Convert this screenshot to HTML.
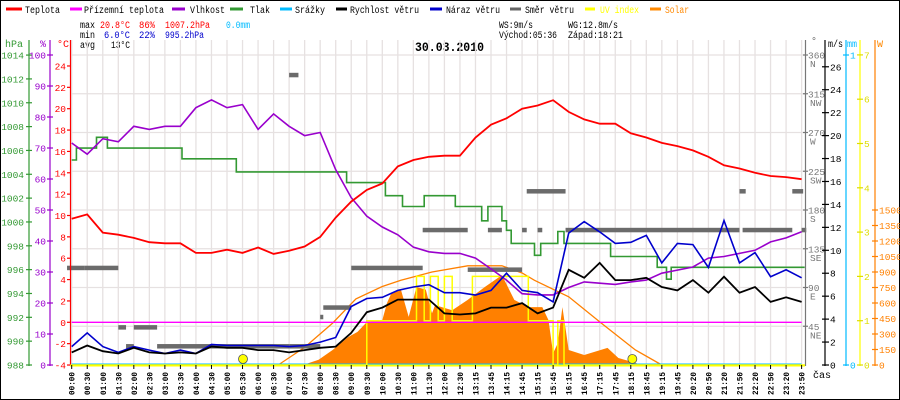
<!DOCTYPE html>
<html><head><meta charset="utf-8"><style>
html,body{margin:0;padding:0;background:#fff}
svg{display:block;font-family:"Liberation Mono",monospace}
</style></head><body>
<svg id="chart" width="900" height="400" viewBox="0 0 900 400" xmlns="http://www.w3.org/2000/svg">
<rect x="0.5" y="0.5" width="899" height="399" fill="#fff" stroke="#000"/>
<g id="legend" font-size="10">
 <g><line x1="6" y1="9" x2="22" y2="9" stroke="#f00" stroke-width="3"/><text x="25" y="13" textLength="35" lengthAdjust="spacingAndGlyphs">Teplota</text></g>
 <g><line x1="70" y1="9" x2="82" y2="9" stroke="#f0f" stroke-width="3"/><text x="84" y="13" textLength="80" lengthAdjust="spacingAndGlyphs">Přízemní teplota</text></g>
 <g><line x1="172" y1="9" x2="185" y2="9" stroke="#90c" stroke-width="3"/><text x="190" y="13" textLength="35" lengthAdjust="spacingAndGlyphs">Vlhkost</text></g>
 <g><line x1="230" y1="9" x2="243" y2="9" stroke="#393" stroke-width="3"/><text x="250" y="13" textLength="20" lengthAdjust="spacingAndGlyphs">Tlak</text></g>
 <g><line x1="280" y1="9" x2="292" y2="9" stroke="#0bf" stroke-width="3"/><text x="295" y="13" textLength="30" lengthAdjust="spacingAndGlyphs">Srážky</text></g>
 <g><line x1="336" y1="9" x2="347" y2="9" stroke="#000" stroke-width="3"/><text x="350" y="13" textLength="69" lengthAdjust="spacingAndGlyphs">Rychlost větru</text></g>
 <g><line x1="430" y1="9" x2="442" y2="9" stroke="#00c" stroke-width="3"/><text x="446" y="13" textLength="54" lengthAdjust="spacingAndGlyphs">Náraz větru</text></g>
 <g><line x1="510" y1="9" x2="521" y2="9" stroke="#666" stroke-width="3"/><text x="525" y="13" textLength="49" lengthAdjust="spacingAndGlyphs">Směr větru</text></g>
 <g><line x1="585" y1="9" x2="595" y2="9" stroke="#ff0" stroke-width="3"/><text x="600" y="13" fill="#ff0" textLength="39" lengthAdjust="spacingAndGlyphs">UV index</text></g>
 <g><line x1="650" y1="9" x2="661" y2="9" stroke="#f80" stroke-width="3"/><text x="665" y="13" fill="#f80" textLength="24" lengthAdjust="spacingAndGlyphs">Solar</text></g>
</g>
<g id="stats" font-size="10">
 <text x="80" y="28" textLength="15" lengthAdjust="spacingAndGlyphs">max</text>
 <text x="100" y="28" fill="#f00" textLength="30" lengthAdjust="spacingAndGlyphs">20.8°C</text>
 <text x="139" y="28" fill="#f00" textLength="16" lengthAdjust="spacingAndGlyphs">86%</text>
 <text x="165" y="28" fill="#f00" textLength="45" lengthAdjust="spacingAndGlyphs">1007.2hPa</text>
 <text x="226" y="28" fill="#0bf" textLength="24" lengthAdjust="spacingAndGlyphs">0.0mm</text>
 <text x="80" y="38" textLength="15" lengthAdjust="spacingAndGlyphs">min</text>
 <text x="104" y="38" fill="#00c" textLength="26" lengthAdjust="spacingAndGlyphs">6.0°C</text>
 <text x="139" y="38" fill="#00c" textLength="16" lengthAdjust="spacingAndGlyphs">22%</text>
 <text x="165" y="38" fill="#00c" textLength="39" lengthAdjust="spacingAndGlyphs">995.2hPa</text>
 <text x="80" y="48" textLength="15" lengthAdjust="spacingAndGlyphs">avg</text>
 <text x="111" y="48" textLength="19" lengthAdjust="spacingAndGlyphs">13°C</text>
 <text x="499" y="28" textLength="34" lengthAdjust="spacingAndGlyphs">WS:9m/s</text>
 <text x="568" y="28" textLength="50" lengthAdjust="spacingAndGlyphs">WG:12.8m/s</text>
 <text x="499" y="38" textLength="58" lengthAdjust="spacingAndGlyphs">Východ:05:36</text>
 <text x="568" y="38" textLength="55" lengthAdjust="spacingAndGlyphs">Západ:18:21</text>
</g>
<text x="415" y="51" font-size="13" font-weight="bold" textLength="69" lengthAdjust="spacingAndGlyphs">30.03.2010</text>
<g font-size="10">
 <text x="5" y="47" fill="#393">hPa</text>
 <text x="40" y="47" fill="#90c">%</text>
 <text x="57" y="47" fill="#f00">°C</text>
 <text x="811" y="44" fill="#666">°</text>
 <text x="828" y="47" fill="#000" textLength="15" lengthAdjust="spacingAndGlyphs">m/s</text>
 <text x="847" y="47" fill="#0bf" textLength="10" lengthAdjust="spacingAndGlyphs">mm</text>
 <text x="877" y="47" fill="#f80">W</text>
 <text x="813" y="378" fill="#000">čas</text>
</g>
<g id="plot"></g>
</svg>
<script>
// ---- data ----
const timeLabels = ["00:00","00:30","01:00","01:30","02:00","02:30","03:00","03:30","04:00","04:30","05:00","05:30","06:00","06:30","07:00","07:30","08:00","08:30","09:00","09:30","10:00","10:30","11:00","11:30","12:00","12:30","13:15","13:45","14:15","14:45","15:15","15:45","16:15","16:45","17:15","17:45","18:15","18:45","19:15","19:45","20:20","20:50","21:20","21:50","22:20","22:50","23:20","23:50"];
const temperature = [9.7,10.1,8.4,8.2,7.9,7.5,7.4,7.4,6.5,6.5,6.8,6.5,7.0,6.4,6.7,7.1,8.0,9.8,11.3,12.4,13.0,14.6,15.2,15.5,15.6,15.6,17.3,18.5,19.1,20.0,20.3,20.8,19.7,19.0,18.6,18.6,17.7,17.3,16.8,16.5,16.1,15.5,14.7,14.4,14.0,13.7,13.6,13.4];
const groundTemp = [0,0,0,0,0,0,0,0,0,0,0,0,0,0,0,0,0,0,0,0,0,0,0,0,0,0,0,0,0,0,0,0,0,0,0,0,0,0,0,0,0,0,0,0,0,0,0,0];
const humidity = [71.6,68,73,72,77,76,77,77,83,85.5,83,84,76,81,77,74,75,63,54,48,44.5,42,38,36.5,36,36,34.5,31,27.4,23,22.6,22.6,25,26.8,26.4,26,26.8,27.4,29.6,30.6,31.6,34.5,35,36,37,39.7,41,43];
const windSpeed = [1.1,1.7,1.2,1.0,1.5,1.1,1.0,1.1,1.0,1.6,1.5,1.5,1.3,1.3,1.1,1.3,1.5,1.6,2.8,4.6,5.0,5.7,5.7,5.7,4.5,4.4,4.5,5.0,5.0,5.4,4.5,5.0,8.3,7.6,8.9,7.4,7.4,7.6,6.8,6.5,7.4,6.3,7.7,6.3,6.8,5.5,5.9,5.5];
const windGust = [1.6,2.8,1.6,1.1,1.6,1.3,1.0,1.3,1.0,1.8,1.7,1.7,1.7,1.7,1.6,1.7,2.0,2.4,5.1,5.8,5.9,6.5,6.8,7.0,6.3,6.3,6.1,6.5,8.0,6.5,6.3,5.5,11.5,12.5,11.6,10.6,10.7,11.3,8.9,10.6,10.5,8.5,12.6,8.9,9.8,7.7,8.3,7.6];
const rain = [0,0,0,0,0,0,0,0,0,0,0,0,0,0,0,0,0,0,0,0,0,0,0,0,0,0,0,0,0,0,0,0,0,0,0,0,0,0,0,0,0,0,0,0,0,0,0,0];
const pressureTime = [0,0.3,1.6,2.3,7.1,10.6,17.7,20.2,21.3,22.7,24.7,26.4,26.8,27.7,28.0,28.3,29.8,30.2,31.3,31.7,34.7,37.7,38.3,38.6];
const pressureVal = [1005.2,1006.2,1007.1,1006.2,1005.3,1004.2,1003.3,1002.2,1001.3,1002.2,1001.3,1000.1,1001.3,1000.1,999.3,998.2,997.2,998.2,999.2,998.2,997.1,996.2,995.2,996.2];
const uvTime = [0,19.0,22.2,22.7,23.1,23.6,24.0,24.5,25.0,25.8,29.4,31.0,31.3,31.7];
const uvVal = [0,1,2,1,2,1,2,1,1,2,1,0,1,0];
const solarTime = [0,14.7,15.2,15.9,16.8,17.8,18.4,19,20,20.3,20.6,21.2,21.7,22.2,22.8,23.2,23.4,24.5,25.5,26.6,27.7,28.5,29.4,30.3,30.7,31,31.3,31.6,32,33,34.5,35.2,36.3,36.7,47.2];
const solarVal = [0,0,15,50,145,270,320,415,435,600,700,730,465,755,730,500,580,530,630,755,870,630,560,560,435,115,210,560,145,97,165,68,20,0,0];
const solarMaxTime = [13.3,15,16.8,18.3,20,21.2,23.2,25.5,27.7,29,29.8,32,34.1,36.3,38];
const solarMaxVal = [0,170,405,640,760,820,900,960,960,890,820,660,405,145,0];
const dirStart = [-0.3,0.8,3.0,3.5,4.0,5.5,14.0,14.7,16.0,16.2,18.0,22.6,26.8,29.0,30.0,31.8,43.2,47.0,25.5,29.3,43.0,46.4,14.0];
const dirEnd   = [0.8,3.0,3.5,4.0,5.5,14.0,14.7,16.0,16.2,18.0,22.6,25.5,27.7,29.3,30.3,43.0,46.4,47.3,29.0,31.8,43.4,47.1,14.6];
const dirVal   = [113,113,44,22,44,22,22,22,56,67,113,157,157,157,157,157,157,157,111,202,202,202,337];
const sunEvents = [11.03,36.1];

// ---- scales ----
const X0=71.7, DX=15.53, YB=365;
const xI=i=>X0+i*DX;
const yT=t=>322.3-t*10.68;
const yH=h=>YB-h*3.1;
const yP=p=>YB-(p-988)*11.92;
const yW=v=>YB-v*11.47;
const yD=d=>YB-d/360*310;
const yS=w=>YB-w*155/1500;
const yUV=u=>YB-u*44.3;
const yR=m=>YB-m*310;

const NS="http://www.w3.org/2000/svg";
const plot=document.getElementById('plot');
function mk(tag,attrs,parent){const e=document.createElementNS(NS,tag);for(const k in attrs)e.setAttribute(k,attrs[k]);(parent||plot).appendChild(e);return e;}
function grp(){return mk('g',{});}

// grid
const grid=grp();


timeLabels.forEach((l,i)=>{const g=mk('line',{x1:xI(i),x2:xI(i),y1:40,y2:YB,stroke:'#e6e1e1','stroke-width':1.3},grid);

});
for(let d=45;d<=360;d+=45){const g=mk('line',{x1:70,x2:805,y1:yD(d),y2:yD(d),stroke:'#e6e1e1','stroke-width':1.3},grid);

}

function stepPts(ts,vs,yf,end){let p=[];for(let k=0;k<ts.length;k++){const x=xI(ts[k]);if(k>0)p.push([x,yf(vs[k-1])]);p.push([x,yf(vs[k])]);}p.push([xI(end),yf(vs[vs.length-1])]);return p.map(a=>a[0].toFixed(1)+','+a[1].toFixed(1)).join(' ');}
function linePts(vs,yf){return vs.map((v,i)=>xI(i).toFixed(1)+','+yf(v).toFixed(1)).join(' ');}
function pairPts(ts,vs,yf){return ts.map((t,k)=>xI(t).toFixed(1)+','+yf(vs[k]).toFixed(1)).join(' ');}

// solar fill
const sf=mk('polygon',{points:pairPts(solarTime,solarVal,yS)+' '+xI(47.2)+','+YB+' '+xI(0)+','+YB,fill:'#ff8000'});


const sm=mk('polyline',{points:pairPts(solarMaxTime,solarMaxVal,yS),fill:'none',stroke:'#ff8000','stroke-width':1.3});



// wind direction bars
dirVal.forEach((d,k)=>{const r=mk('rect',{x:xI(dirStart[k]),y:yD(d)-2,width:Math.max(1,(dirEnd[k]-dirStart[k])*DX),height:4.5,fill:'#6b6b6b'});

});

// rain
const rl=mk('polyline',{points:linePts(rain,yR),fill:'none',stroke:'#00bbff','stroke-width':3});


// uv
const ul=mk('polyline',{points:stepPts(uvTime,uvVal,yUV,47.2),fill:'none',stroke:'#ffff00','stroke-width':1.5});


// pressure
const pl=mk('polyline',{points:stepPts(pressureTime,pressureVal,yP,47.2),fill:'none',stroke:'#339933','stroke-width':1.6});


// humidity
const hl=mk('polyline',{points:linePts(humidity,yH),fill:'none',stroke:'#9900cc','stroke-width':1.6});


// ground temp
const gl=mk('polyline',{points:linePts(groundTemp,yT),fill:'none',stroke:'#ff00ff','stroke-width':1.3});


// gust
const wg=mk('polyline',{points:linePts(windGust,yW),fill:'none',stroke:'#0000cc','stroke-width':1.6});


// speed
const ws=mk('polyline',{points:linePts(windSpeed,yW),fill:'none',stroke:'#000','stroke-width':1.8});


// temperature
const tl=mk('polyline',{points:linePts(temperature,yT),fill:'none',stroke:'#ff0000','stroke-width':1.8});


// sun markers
sunEvents.forEach(s=>{const c=mk('circle',{cx:xI(s),cy:359,r:4.5,fill:'#ffff00',stroke:'#555','stroke-width':0.8});

});

// axes
function axisLine(x,color,name){const l=mk('line',{x1:x,x2:x,y1:40,y2:YB+1,stroke:color,'stroke-width':1.2});

}
axisLine(29,'#339933','hpa-axis');axisLine(50,'#9900cc','humidity-axis');axisLine(70.5,'#ff0000','temp-axis');
axisLine(805.5,'#777','direction-axis');axisLine(825,'#000','wind-axis');axisLine(846,'#00bbff','rain-axis');axisLine(860,'#ffff00','uv-axis');axisLine(875,'#ff8000','solar-axis');
const xa=mk('line',{x1:70,x2:805,y1:YB+0.5,y2:YB+0.5,stroke:'#ffff00','stroke-width':2});



function tick(x1,x2,y,color,label,lx,anchor,name){mk('line',{x1:x1,x2:x2,y1:y,y2:y,stroke:color,'stroke-width':1.2});
const t=mk('text',{x:lx,y:y+3.5,fill:color,'font-size':9.5,'text-anchor':anchor});t.textContent=label;

}
for(let p=988;p<=1014;p+=2)tick(26,32,yP(p),'#339933',String(p),24,'end','hpa-tick-label');
for(let h=0;h<=100;h+=10)tick(47,53,yH(h),'#9900cc',String(h),46,'end','humidity-tick-label');
for(let t=-4;t<=24;t+=2)tick(67,70,yT(t),'#ff0000',String(t),66,'end','temp-tick-label');
const dirNames=['','NE','E','SE','S','SW','W','NW','N'];
for(let d=45;d<=360;d+=45){tick(803,808,yD(d),'#777',String(d),808,'start','direction-tick-label');
const n=mk('text',{x:810,y:yD(d)+12,fill:'#777','font-size':9.5});n.textContent=dirNames[d/45];

}
for(let v=0;v<=26;v+=2)tick(822,829,yW(v),'#000',String(v),830,'start','wind-tick-label');
for(let m=0;m<=1;m++)tick(843,849,yR(m),'#00bbff',String(m),850,'start','rain-tick-label');
for(let u=0;u<=7;u++)tick(857,863,yUV(u),'#dddd00',String(u),864,'start','uv-tick-label');
for(let w=0;w<=1500;w+=150)tick(872,878,yS(w),'#ff8000',String(w),879,'start','solar-tick-label');

// x labels
timeLabels.forEach((l,i)=>{mk('line',{x1:xI(i),x2:xI(i),y1:YB,y2:YB+4,stroke:'#000'});
const t=mk('text',{x:0,y:0,'font-size':8.5,'font-weight':'bold',transform:`translate(${(xI(i)+3).toFixed(1)},395) rotate(-90)`,textLength:23,lengthAdjust:'spacingAndGlyphs'});
t.textContent=l;

});
</script>
</body></html>
